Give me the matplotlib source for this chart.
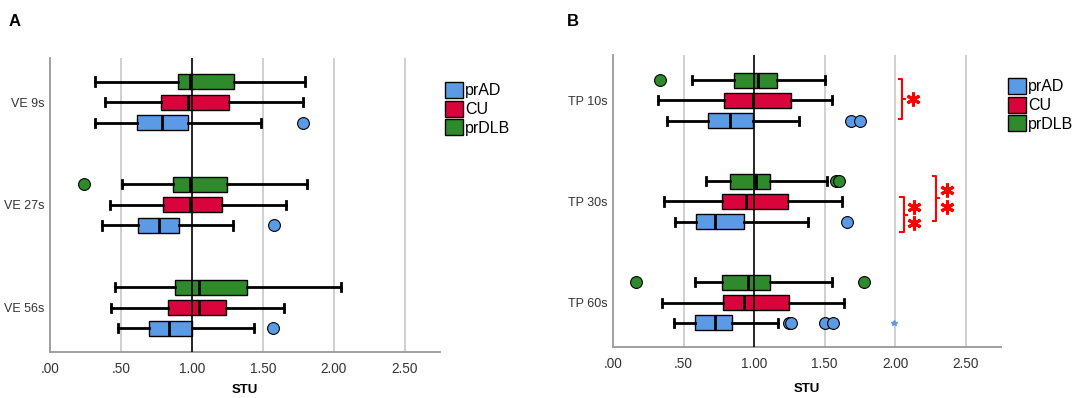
import matplotlib
matplotlib.use("Agg")
import matplotlib.pyplot as plt
from matplotlib.patches import Patch

plt.rcParams['font.family'] = ['Liberation Sans', 'DejaVu Sans']

# Data
groups = ['prAD', 'CU', 'prDLB']
colors = {'prAD': '#5B9BE6', 'CU': '#D9043B', 'prDLB': '#2E8A2A'}
offsets = {'prDLB': -0.2, 'CU': 0.0, 'prAD': 0.2}

cats_A = ['VE 9s', 'VE 27s', 'VE 56s']
A_prAD_lo = [0.32, 0.37, 0.48]
A_prAD_q1 = [0.61, 0.62, 0.70]
A_prAD_med = [0.79, 0.77, 0.84]
A_prAD_q3 = [0.97, 0.91, 1.00]
A_prAD_hi = [1.49, 1.29, 1.44]
A_prAD_out = [[1.78], [1.58], [1.57]]

A_CU_lo = [0.39, 0.42, 0.43]
A_CU_q1 = [0.78, 0.80, 0.83]
A_CU_med = [0.97, 0.99, 1.05]
A_CU_q3 = [1.26, 1.21, 1.24]
A_CU_hi = [1.78, 1.66, 1.65]
A_CU_out = [[], [], []]

A_prDLB_lo = [0.32, 0.51, 0.46]
A_prDLB_q1 = [0.90, 0.87, 0.88]
A_prDLB_med = [0.99, 0.99, 1.05]
A_prDLB_q3 = [1.30, 1.25, 1.39]
A_prDLB_hi = [1.80, 1.81, 2.05]
A_prDLB_out = [[], [0.24], []]

cats_B = ['TP 10s', 'TP 30s', 'TP 60s']
B_prAD_lo = [0.38, 0.44, 0.43]
B_prAD_q1 = [0.67, 0.59, 0.58]
B_prAD_med = [0.83, 0.72, 0.72]
B_prAD_q3 = [0.99, 0.93, 0.84]
B_prAD_hi = [1.32, 1.38, 1.17]
B_prAD_out = [[1.69, 1.75], [1.66], [1.25, 1.26, 1.50, 1.56]]
B_prAD_extreme = [[], [], [1.99]]

B_CU_lo = [0.32, 0.36, 0.35]
B_CU_q1 = [0.79, 0.77, 0.78]
B_CU_med = [0.99, 0.94, 0.93]
B_CU_q3 = [1.26, 1.24, 1.25]
B_CU_hi = [1.55, 1.62, 1.64]
B_CU_out = [[], [], []]

B_prDLB_lo = [0.56, 0.66, 0.58]
B_prDLB_q1 = [0.86, 0.83, 0.77]
B_prDLB_med = [1.03, 1.01, 0.96]
B_prDLB_q3 = [1.16, 1.11, 1.11]
B_prDLB_hi = [1.50, 1.52, 1.55]
B_prDLB_out = [[0.33], [1.58, 1.60], [0.16, 1.78]]

# significance brackets in panel B: (x, y_top, y_bottom, number of stars)
sig_x = [2.05, 2.06, 2.29]
sig_top = [-0.21, 0.96, 0.75]
sig_bot = [0.18, 1.30, 1.19]
sig_stars = [1, 2, 2]

panel_A = {
    'prAD': (A_prAD_lo, A_prAD_q1, A_prAD_med, A_prAD_q3, A_prAD_hi, A_prAD_out),
    'CU': (A_CU_lo, A_CU_q1, A_CU_med, A_CU_q3, A_CU_hi, A_CU_out),
    'prDLB': (A_prDLB_lo, A_prDLB_q1, A_prDLB_med, A_prDLB_q3, A_prDLB_hi, A_prDLB_out),
}
panel_B = {
    'prAD': (B_prAD_lo, B_prAD_q1, B_prAD_med, B_prAD_q3, B_prAD_hi, B_prAD_out),
    'CU': (B_CU_lo, B_CU_q1, B_CU_med, B_CU_q3, B_CU_hi, B_CU_out),
    'prDLB': (B_prDLB_lo, B_prDLB_q1, B_prDLB_med, B_prDLB_q3, B_prDLB_hi, B_prDLB_out),
}


def draw_panel(ax, cats, data, labelpad):
    for g in groups:
        lo, q1, med, q3, hi, out = data[g]
        stats = []
        for i in range(len(cats)):
            stats.append({'whislo': lo[i], 'q1': q1[i], 'med': med[i], 'q3': q3[i],
                          'whishi': hi[i], 'fliers': out[i]})
        pos = [i + offsets[g] for i in range(len(cats))]
        ax.bxp(stats, positions=pos, widths=0.145, orientation='horizontal',
               patch_artist=True, capwidths=0.08,
               boxprops=dict(facecolor=colors[g], edgecolor='black', linewidth=1),
               medianprops=dict(color='black', linewidth=2),
               whiskerprops=dict(color='black', linewidth=2),
               capprops=dict(color='black', linewidth=2),
               flierprops=dict(marker='o', markerfacecolor=colors[g],
                               markeredgecolor='black', markersize=8.5,
                               markeredgewidth=0.8),
               zorder=3)

    ticks = [0, 0.5, 1.0, 1.5, 2.0, 2.5]
    ax.set_xticks(ticks)
    ax.set_xticklabels(['.00', '.50', '1.00', '1.50', '2.00', '2.50'])
    for t in [0.5, 1.5, 2.0, 2.5]:
        ax.axvline(t, color='#cccccc', linewidth=1.3, zorder=0)
    ax.axvline(1.0, color='black', linewidth=1.2, zorder=4)
    ax.set_xlim(0, 2.75)
    ax.set_yticks(range(len(cats)))
    ax.set_yticklabels(cats)
    ax.tick_params(length=0, labelcolor='#333333')
    ax.tick_params(axis='x', pad=7, labelsize=9.8)
    ax.tick_params(axis='y', pad=4, labelsize=9)
    for s in ['top', 'right']:
        ax.spines[s].set_visible(False)
    for s in ['left', 'bottom']:
        ax.spines[s].set_color('#999999')
        ax.spines[s].set_linewidth(1.3)
    ax.set_xlabel('STU', fontweight='bold', fontsize=9.5, labelpad=labelpad)


fig = plt.figure(figsize=(10.84, 3.98), dpi=100)
axA = fig.add_axes([0.0461, 0.1156, 0.360, 0.739])
axB = fig.add_axes([0.5655, 0.128, 0.358, 0.734])

draw_panel(axA, cats_A, panel_A, 6)
axA.set_ylim(2.43, -0.43)

draw_panel(axB, cats_B, panel_B, 9)
axB.set_ylim(2.44, -0.45)

# extreme value marker
for i, vals in enumerate(B_prAD_extreme):
    for v in vals:
        axB.plot(v, i + offsets['prAD'], marker='*', color=colors['prAD'],
                 markersize=4, zorder=3)

# significance brackets
for x, y0, y1, n in zip(sig_x, sig_top, sig_bot, sig_stars):
    ym = (y0 + y1) / 2
    axB.plot([x - 0.025, x, x, x - 0.025], [y0, y0, y1, y1], color='red',
             linewidth=1.5, clip_on=False)
    axB.plot([x, x + 0.02], [ym, ym], color='red', linewidth=1.5, clip_on=False)
    if n == 1:
        ys = [ym]
    else:
        ys = [ym - 0.08, ym + 0.08]
    for y in ys:
        axB.plot(x + 0.075, y, marker=(6, 2, 0), color='red', markersize=10,
                 markeredgewidth=2.2, clip_on=False)

# legends
handles = [Patch(facecolor=colors[g], edgecolor='black', label=g) for g in groups]
for xy in [(0.405, 0.81), (0.924, 0.82)]:
    fig.legend(handles=handles, loc='upper left', bbox_to_anchor=xy, frameon=False,
               fontsize=11.5, handlelength=1.1, handleheight=1.15,
               handletextpad=0.15, labelspacing=0.15, borderaxespad=0)

fig.text(0.008, 0.965, 'A', fontsize=12, fontweight='bold', va='top')
fig.text(0.523, 0.965, 'B', fontsize=12, fontweight='bold', va='top')

plt.savefig('out.png', dpi=100)
